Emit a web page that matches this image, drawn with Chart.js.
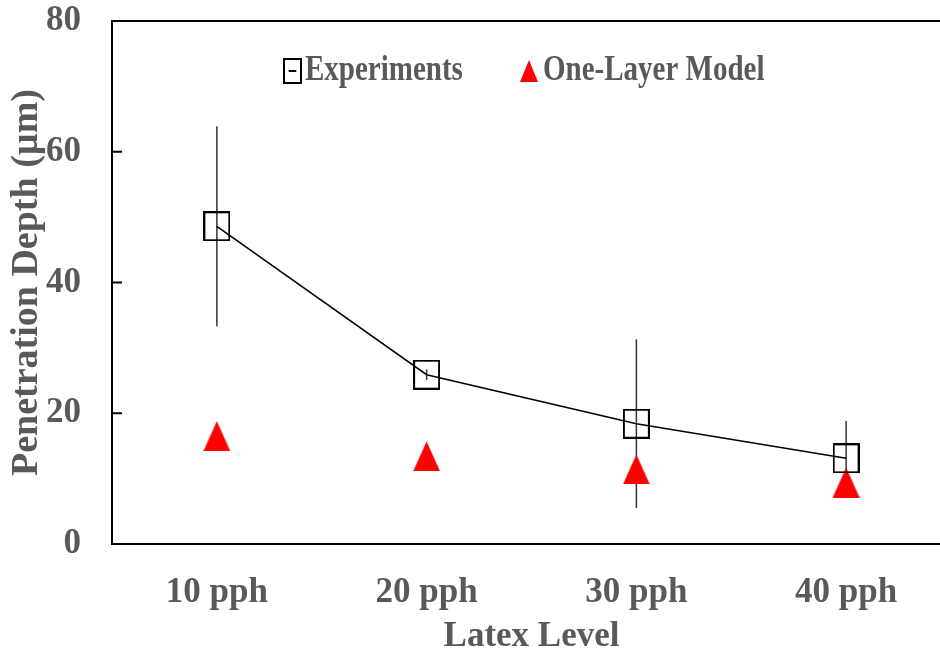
<!DOCTYPE html>
<html>
<head>
<meta charset="utf-8">
<script src="https://cdn.jsdelivr.net/npm/chart.js@4.4.1/dist/chart.umd.min.js"></script>
<style>
  html, body { margin: 0; padding: 0; background: #fff; overflow: hidden; }
  #wrap { width: 951px; height: 655px; }
</style>
</head>
<body>
<div id="wrap"><canvas id="depthChart" width="951" height="655"></canvas></div>
<script>
const latexLevels = ['10 pph', '20 pph', '30 pph', '40 pph'];
const experimentDepth = [48.6, 25.9, 18.4, 13.1];
const experimentError = [15.3, 0.8, 12.9, 5.7];
const modelDepth = [16.5, 13.4, 11.4, 9.4];
const depthTicks = [0, 20, 40, 60, 80];

const textGrey = '#595959';
const serif = "'Liberation Serif', 'Times New Roman', serif";

// marker images (open square, red triangle)
function squareMarker(w, h, dash) {
    const c = document.createElement('canvas');
    c.width = w; c.height = h;
    const g = c.getContext('2d');
    g.strokeStyle = '#000';
    g.lineWidth = 2;
    g.strokeRect(1, 1, w - 2, h - 2);
    if (dash) {
        g.beginPath();
        g.moveTo(w * 0.3, h / 2);
        g.lineTo(w * 0.7, h / 2);
        g.stroke();
    }
    return c;
}

function triangleMarker(w, h) {
    const c = document.createElement('canvas');
    c.width = w; c.height = h;
    const g = c.getContext('2d');
    g.fillStyle = '#ff0000';
    g.beginPath();
    g.moveTo(w / 2, 0);
    g.lineTo(w, h);
    g.lineTo(0, h);
    g.closePath();
    g.fill();
    return c;
}

const squareImg = squareMarker(27, 30, false);
const triangleImg = triangleMarker(27, 30);

// error bars behind the markers
const errorBars = {
    id: 'errorBars',
    beforeDatasetsDraw(chart) {
        const { ctx, scales: { x, y } } = chart;
        ctx.save();
        ctx.strokeStyle = '#333';
        ctx.lineWidth = 1.5;
        experimentDepth.forEach((v, i) => {
            const px = x.getPixelForValue(i);
            ctx.beginPath();
            ctx.moveTo(px, y.getPixelForValue(v + experimentError[i]));
            ctx.lineTo(px, y.getPixelForValue(v - experimentError[i]));
            ctx.stroke();
        });
        ctx.restore();
    }
};

// top frame line and inward y ticks
const frame = {
    id: 'frame',
    afterDatasetsDraw(chart) {
        const { ctx, chartArea: a, scales: { y } } = chart;
        ctx.save();
        ctx.strokeStyle = '#000';
        ctx.lineWidth = 2;
        ctx.beginPath();
        ctx.moveTo(a.left, a.top);
        ctx.lineTo(a.right, a.top);
        depthTicks.forEach(v => {
            const py = y.getPixelForValue(v);
            ctx.moveTo(a.left, py);
            ctx.lineTo(a.left + 10, py);
        });
        ctx.stroke();
        ctx.restore();
    }
};

// legend inside the plot (text a bit taller than wide, like the source)
const insideLegend = {
    id: 'insideLegend',
    afterDraw(chart) {
        const { ctx } = chart;
        const legendY = 71;
        ctx.save();
        ctx.drawImage(squareMarker(19, 26, true), 283, legendY - 13);
        ctx.drawImage(triangleMarker(18, 22), 520, legendY - 11);
        ctx.fillStyle = textGrey;
        ctx.font = 'bold 29px ' + serif;
        ctx.textBaseline = 'middle';
        ctx.translate(0, legendY);
        ctx.scale(1, 1.2);
        ctx.fillText('Experiments', 305, 0);
        ctx.fillText('One-Layer Model', 543, 0);
        ctx.restore();
    }
};

const ctx = document.getElementById('depthChart').getContext('2d');
new Chart(ctx, {
    type: 'line',
    data: {
        labels: latexLevels,
        datasets: [
            {
                label: 'Experiments',
                data: experimentDepth,
                borderColor: '#000',
                borderWidth: 1.5,
                pointStyle: squareImg,
                pointRadius: 14,
                tension: 0
            },
            {
                label: 'One-Layer Model',
                data: modelDepth,
                showLine: false,
                pointStyle: triangleImg,
                pointRadius: 14
            }
        ]
    },
    options: {
        responsive: false,
        devicePixelRatio: 1,
        animation: false,
        layout: { autoPadding: false, padding: { top: 21, right: 0, bottom: 0, left: 0 } },
        plugins: {
            legend: { display: false },
            tooltip: { enabled: false }
        },
        scales: {
            x: {
                offset: true,
                grid: { display: false, drawTicks: false },
                border: { color: '#000', width: 2 },
                ticks: {
                    color: textGrey,
                    font: { family: serif, size: 35, weight: 'bold' },
                    padding: 28,
                    maxRotation: 0
                },
                title: {
                    display: true,
                    text: 'Latex Level',
                    color: textGrey,
                    font: { family: serif, size: 35, weight: 'bold' },
                    padding: { top: 0, bottom: -3 }
                },
                afterFit(scale) {
                    scale.height = 111;
                    scale.paddingLeft = 0;
                    scale.paddingRight = 0;
                }
            },
            y: {
                min: 0,
                max: 80,
                afterBuildTicks(scale) { scale.ticks = depthTicks.map(v => ({ value: v })); },
                grid: { display: false, drawTicks: false },
                border: { color: '#000', width: 2 },
                ticks: {
                    color: textGrey,
                    font: { family: serif, size: 35, weight: 'bold' },
                    padding: 31
                },
                title: {
                    display: true,
                    text: 'Penetration Depth (µm)',
                    color: textGrey,
                    font: { family: serif, size: 38, weight: 'bold' },
                    padding: { top: 4, bottom: 0 }
                },
                afterFit(scale) {
                    scale.width = 112;
                    scale.paddingTop = 0;
                    scale.paddingBottom = 0;
                }
            }
        }
    },
    plugins: [errorBars, frame, insideLegend]
});
</script>
</body>
</html>
